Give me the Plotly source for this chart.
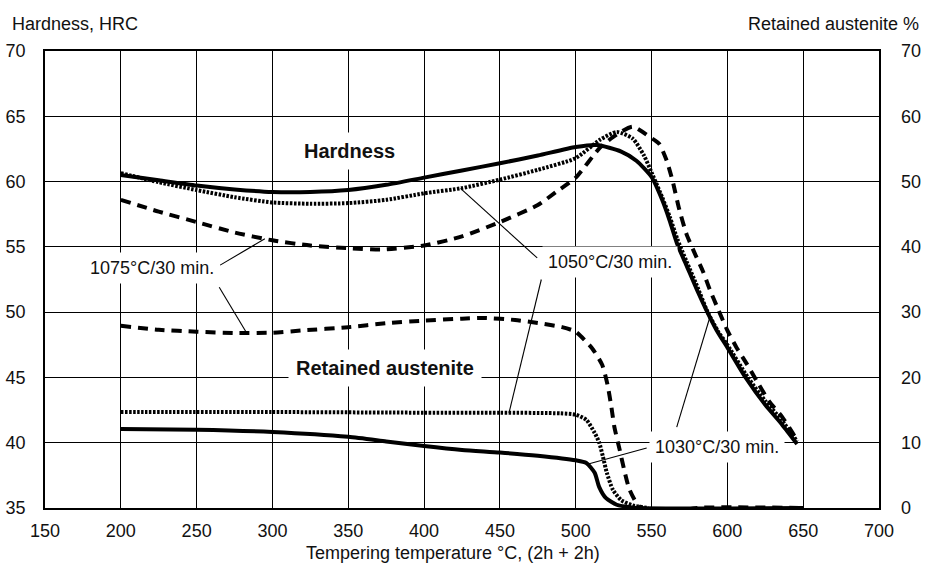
import numpy as np
import plotly.graph_objects as go

# ---------------- data ----------------
# Hardness (left axis, HRC)
h1030_t = [200, 225, 250, 275, 300, 325, 350, 375, 400, 425, 450, 475, 500, 514, 530, 540, 550, 557, 562, 567, 573, 580, 586, 593, 600, 612, 625, 636, 646]
h1030_v = [60.5, 60.1, 59.7, 59.4, 59.2, 59.2, 59.35, 59.75, 60.3, 60.85, 61.4, 62.0, 62.65, 62.8, 62.3, 61.6, 60.35, 58.6, 57.0, 55.2, 53.6, 51.7, 50.2, 48.6, 47.3, 45.0, 42.9, 41.4, 39.9]

h1050_t = [200, 225, 250, 275, 300, 325, 350, 375, 400, 425, 450, 475, 500, 516, 527, 537.5, 545, 550, 557, 562, 567, 573, 580, 587, 594, 600, 613.5, 625, 636, 646]
h1050_v = [60.65, 59.95, 59.35, 58.8, 58.4, 58.3, 58.35, 58.6, 59.1, 59.5, 60.15, 60.9, 61.8, 63.2, 63.8, 63.3, 62.0, 60.7, 58.8, 57.3, 55.6, 53.9, 52.0, 50.0, 48.5, 47.5, 45.0, 43.2, 41.7, 40.1]

h1075_t = [200, 225, 250, 275, 300, 325, 350, 372, 400, 425, 450, 475, 487, 500, 516, 527, 537.5, 549, 555, 560, 564, 568, 573, 578.5, 584, 588.5, 594, 600, 606, 613, 620, 628, 636, 643, 646]
h1075_v = [58.6, 57.7, 56.9, 56.1, 55.5, 55.1, 54.9, 54.8, 55.1, 55.8, 56.9, 58.2, 59.2, 60.3, 62.6, 63.6, 64.2, 63.4, 62.9, 61.6, 60.0, 58.0, 56.0, 54.5, 53.1, 51.7, 50.2, 48.6, 47.3, 46.0, 44.6, 43.1, 42.0, 40.75, 40.2]

# Retained austenite (right axis, %)
ra1030_t = [200, 250, 300, 350, 375, 400, 425, 450, 475, 500, 507, 512.5, 515.5, 520, 527, 533.5, 540, 650]
ra1030_v = [12.1, 12.0, 11.65, 10.9, 10.2, 9.5, 8.9, 8.5, 8.0, 7.3, 6.9, 5.4, 3.2, 1.5, 0.5, 0.2, 0.0, 0.0]

ra1050_t = [200, 300, 400, 450, 490, 500, 507, 512.5, 515.5, 518, 520.5, 524.5, 530, 537.5, 548]
ra1050_v = [14.7, 14.7, 14.6, 14.6, 14.5, 14.3, 13.5, 11.5, 10.0, 7.8, 5.4, 2.8, 1.2, 0.4, 0.0]

ra1075_t = [200, 225, 250, 275, 300, 320, 350, 375, 400, 425, 440, 460, 476, 491, 500, 511, 517.5, 521, 523.5, 525.5, 529, 532, 535.5, 542, 555, 565, 580, 650]
ra1075_v = [27.9, 27.3, 27.0, 26.8, 26.85, 27.2, 27.7, 28.3, 28.7, 29.0, 29.1, 28.8, 28.3, 27.7, 27.0, 24.4, 21.9, 18.85, 15.5, 12.4, 8.9, 5.8, 2.8, 0.2, -0.6, -0.7, 0.0, 0.0]

x_ticks = [150, 200, 250, 300, 350, 400, 450, 500, 550, 600, 650, 700]
hrc_ticks = [35, 40, 45, 50, 55, 60, 65, 70]
ra_ticks = [0, 10, 20, 30, 40, 50, 60, 70]

FONT = "Liberation Sans, Arial, sans-serif"
INK = "#111111"

fig = go.Figure()

def add(t, v, dash, axis):
    fig.add_trace(go.Scatter(
        x=t, y=v, mode="lines", yaxis=axis, showlegend=False, hoverinfo="skip",
        line=dict(color="black", width=4, dash=dash, shape="spline", smoothing=0.6)))

add(h1075_t, h1075_v, "10px,7px", "y")
add(h1050_t, h1050_v, "2.5px,1.5px", "y")
add(h1030_t, h1030_v, "solid", "y")
add(ra1075_t, ra1075_v, "10px,7px", "y2")
add(ra1050_t, ra1050_v, "2.5px,1.5px", "y2")
add(ra1030_t, ra1030_v, "solid", "y2")

def hrc_to_ra(h):
    return (h - 35) * 2

# leader lines: (label end T, label end HRC) -> point on curve
leaders = [
    ((265.5, 53.6), 295, h1075_t, h1075_v, "y"),
    ((264.9, 51.9), 283, ra1075_t, ra1075_v, "y2"),
    ((474.6, 54.15), 424, h1050_t, h1050_v, "y"),
    ((477.3, 52.5), 456, ra1050_t, ra1050_v, "y2"),
    ((546.8, 39.6), 507.7, ra1030_t, ra1030_v, "y2"),
    ((566.6, 41.2), 588.5, h1030_t, h1030_v, "y"),
]
for (lt, lh), ct, ts, vs, ax in leaders:
    cy = float(np.interp(ct, ts, vs))
    ly = lh if ax == "y" else hrc_to_ra(lh)
    fig.add_shape(type="line", xref="x", yref=ax, x0=lt, y0=ly, x1=ct, y1=cy,
                  line=dict(color="black", width=1.1))

labels = [
    ("1075°C/30 min.", 220.5, 53.4, False),
    ("1050°C/30 min.", 522.3, 53.85, False),
    ("1030°C/30 min.", 593.1, 39.68, False),
    ("Hardness", 350.9, 62.34, True),
    ("Retained austenite", 374.4, 45.73, True),
]
for txt, lx, ly, bold in labels:
    fig.add_annotation(
        x=lx, y=ly, xref="x", yref="y", text=f"<b>{txt}</b>" if bold else txt,
        showarrow=False, bgcolor="white", borderpad=7 if bold else 5,
        font=dict(family=FONT, size=20 if bold else 18, color=INK))

# axis titles
fig.add_annotation(x=-0.042, y=1.059, xref="paper", yref="paper", xanchor="left", yanchor="middle",
                   text="Hardness, HRC", showarrow=False, font=dict(family=FONT, size=18, color=INK))
fig.add_annotation(x=1.0504, y=1.059, xref="paper", yref="paper", xanchor="right", yanchor="middle",
                   text="Retained austenite %", showarrow=False, font=dict(family=FONT, size=18, color=INK))
fig.add_annotation(x=0.489, y=-0.098, xref="paper", yref="paper", xanchor="center", yanchor="middle",
                   text="Tempering temperature °C, (2h + 2h)", showarrow=False,
                   font=dict(family=FONT, size=18, color=INK))

axis_common = dict(showline=True, linecolor="black", linewidth=1.5, mirror=True,
                   showgrid=True, gridcolor="black", gridwidth=1.3, zeroline=False,
                   automargin=False,
                   ticks="", tickfont=dict(family=FONT, size=18, color=INK))

fig.update_layout(
    width=928, height=574,
    margin=dict(l=45, r=49, t=51, b=66, autoexpand=False),
    paper_bgcolor="white", plot_bgcolor="white",
    xaxis=dict(range=[150, 700], tickvals=x_ticks, ticklabelstandoff=6, **axis_common),
    yaxis=dict(range=[35, 70], tickvals=hrc_ticks, ticklabelstandoff=14, **axis_common),
    yaxis2=dict(range=[0, 70], tickvals=ra_ticks, overlaying="y", side="right",
                showgrid=False, showline=False, zeroline=False, ticks="", automargin=False,
                ticklabelstandoff=21, tickfont=dict(family=FONT, size=18, color=INK)),
)

fig.write_html("out.html")
